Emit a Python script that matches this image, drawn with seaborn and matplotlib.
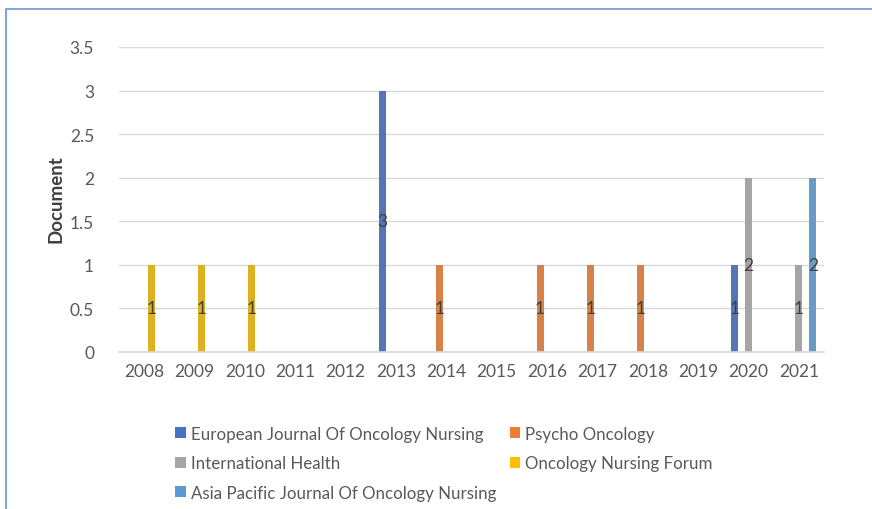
import matplotlib
matplotlib.use("Agg")
import matplotlib.pyplot as plt
from matplotlib.patches import Patch, Rectangle
import seaborn as sns
import pandas as pd

years = ["2008", "2009", "2010", "2011", "2012", "2013", "2014",
         "2015", "2016", "2017", "2018", "2019", "2020", "2021"]
series_names = ["European Journal Of Oncology Nursing", "Psycho Oncology",
                "International Health", "Oncology Nursing Forum",
                "Asia Pacific Journal Of Oncology Nursing"]
european = [0, 0, 0, 0, 0, 3, 0, 0, 0, 0, 0, 0, 1, 0]
psycho = [0, 0, 0, 0, 0, 0, 1, 0, 1, 1, 1, 0, 0, 0]
international = [0, 0, 0, 0, 0, 0, 0, 0, 0, 0, 0, 0, 2, 1]
onf = [1, 1, 1, 0, 0, 0, 0, 0, 0, 0, 0, 0, 0, 0]
asia = [0, 0, 0, 0, 0, 0, 0, 0, 0, 0, 0, 0, 0, 2]
colors = ["#4472C4", "#ED7D31", "#A5A5A5", "#FFC000", "#5B9BD5"]

values = [european, psycho, international, onf, asia]
rows = []
for name, vals in zip(series_names, values):
    for y, v in zip(years, vals):
        rows.append({"Year": y, "Journal": name, "Document": v})
df = pd.DataFrame(rows)

sns.set_theme(style="white")
plt.rcParams["font.family"] = ["Lato", "DejaVu Sans"]

fig = plt.figure(figsize=(8.72, 5.10), dpi=100)
ax = fig.add_axes([0.1365, 0.308, 0.8085, 0.598])

sns.barplot(data=df, x="Year", y="Document", hue="Journal",
            order=years, hue_order=series_names,
            palette=dict(zip(series_names, colors)),
            width=0.69, linewidth=0, legend=False, ax=ax, errorbar=None)

for cont in ax.containers:
    labels = [str(int(b.get_height())) if b.get_height() > 0 else "" for b in cont]
    ax.bar_label(cont, labels=labels, label_type="center",
                 fontsize=12.5, color="#404040")

ax.set_ylim(0, 3.5)
ax.set_xlim(-0.5, len(years) - 0.5)
ax.set_yticks([0, 0.5, 1, 1.5, 2, 2.5, 3, 3.5])
ax.set_yticklabels(["0", "0.5", "1", "1.5", "2", "2.5", "3", "3.5"])
ax.yaxis.grid(True, color="#D9D9D9", linewidth=1)
ax.set_axisbelow(True)
for s in ["top", "right", "left"]:
    ax.spines[s].set_visible(False)
ax.spines["bottom"].set_color("#D9D9D9")
ax.tick_params(axis="both", length=0, labelsize=12.5, colors="#595959")
ax.tick_params(axis="y", pad=18)
ax.tick_params(axis="x", pad=8)
ax.set_xlabel("")
ax.set_ylabel("Document", fontsize=13.5, fontweight="bold", color="#404040")
ax.yaxis.set_label_coords(-0.077, 0.505)

order_idx = [0, 2, 4, 1, 3]
handles = [Patch(facecolor=colors[i], edgecolor="none") for i in order_idx]
labels = [series_names[i] for i in order_idx]
fig.legend(handles, labels, loc="center", bbox_to_anchor=(0.509, 0.09), ncol=2,
           frameon=False, fontsize=12.2, labelcolor="#595959",
           handlelength=0.6, handleheight=0.6, handletextpad=0.3,
           columnspacing=0.8, labelspacing=0.8)

fig.patches.append(Rectangle((6 / 872, -0.1), 1.2, 1.1 - 10 / 510,
                             transform=fig.transFigure, fill=False,
                             edgecolor="#6A96D8", linewidth=1.2))

fig.savefig("out.png", dpi=100)
